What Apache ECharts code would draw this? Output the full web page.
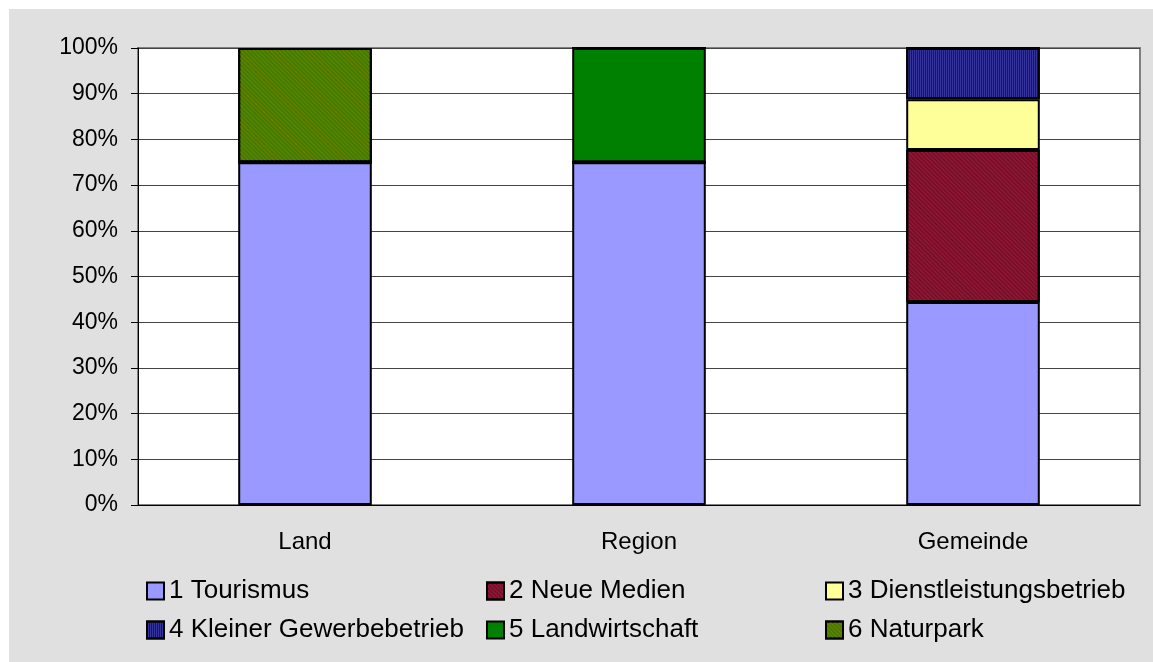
<!DOCTYPE html>
<html>
<head>
<meta charset="utf-8">
<script src="https://cdn.jsdelivr.net/npm/echarts@6/dist/echarts.min.js"></script>
<style>
  html, body { margin: 0; padding: 0; background: #fff; }
  #chart { position: absolute; left: 9px; top: 9px; width: 1144px; height: 653px; background: #e0e0e0; }
</style>
</head>
<body>
<div id="chart"></div>
<script>
var categories = ['Land', 'Region', 'Gemeinde'];
var tourismus = [75, 75, 44.4];
var neueMedien = [0, 0, 33.3];
var dienstleistung = [0, 0, 11.1];
var kleinerGewerbe = [0, 0, 11.2];
var landwirtschaft = [0, 25, 0];
var naturpark = [25, 0, 0];
var yTicks = { min: 0, max: 100, interval: 10 };

var chart = echarts.init(document.getElementById('chart'));
var font = 'Liberation Sans, Arial, sans-serif';

function bar(name, data, color, decal) {
    var s = {
        name: name,
        type: 'bar',
        stack: 'total',
        barWidth: '40%',
        data: data,
        itemStyle: { color: color, borderColor: '#000', borderWidth: 2 }
    };
    if (decal) s.itemStyle.decal = decal;
    return s;
}

function legendCol(left, names) {
    return {
        orient: 'vertical',
        left: left,
        top: 569,
        padding: 0,
        itemWidth: 17,
        itemHeight: 17,
        itemGap: 13,
        icon: 'rect',
        data: names,
        textStyle: { fontFamily: font, fontSize: 26, color: '#000' },
        selectedMode: false
    };
}

option = {
    animation: false,
    grid: {
        left: 129,
        top: 39,
        right: 13,
        bottom: 157,
        show: true,
        backgroundColor: '#fff',
        borderColor: '#808080',
        borderWidth: 2
    },
    legend: [
        legendCol(137, ['1 Tourismus', '4 Kleiner Gewerbebetrieb']),
        legendCol(477, ['2 Neue Medien', '5 Landwirtschaft']),
        legendCol(816, ['3 Dienstleistungsbetrieb', '6 Naturpark'])
    ],
    xAxis: {
        type: 'category',
        data: categories,
        axisLine: { lineStyle: { color: '#000', width: 1 } },
        axisTick: { length: 7, lineStyle: { color: '#000' } },
        axisLabel: { margin: 25, fontFamily: font, fontSize: 24, color: '#000' }
    },
    yAxis: {
        type: 'value',
        min: yTicks.min,
        max: yTicks.max,
        interval: yTicks.interval,
        axisLine: { show: true, lineStyle: { color: '#000', width: 1 } },
        axisTick: { show: true, length: 7, lineStyle: { color: '#000' } },
        axisLabel: { margin: 20, formatter: '{value}%', fontFamily: font, fontSize: 23, color: '#000' },
        splitLine: { lineStyle: { color: '#444', width: 1 } }
    },
    series: [
        bar('1 Tourismus', tourismus, '#9999ff'),
        bar('2 Neue Medien', neueMedien, '#8e1632', {
            symbol: 'rect', symbolSize: 1, dashArrayX: [1, 0], dashArrayY: [1, 2],
            rotation: Math.PI / 4, color: 'rgba(60,0,20,0.45)'
        }),
        bar('3 Dienstleistungsbetrieb', dienstleistung, '#ffff99'),
        bar('4 Kleiner Gewerbebetrieb', kleinerGewerbe, '#34349a', {
            symbol: 'rect', symbolSize: 1, dashArrayX: [1, 1], dashArrayY: [1, 0],
            color: '#15156a'
        }),
        bar('5 Landwirtschaft', landwirtschaft, '#008000'),
        bar('6 Naturpark', naturpark, '#3d7d00', {
            symbol: 'rect', symbolSize: 1, dashArrayX: [1, 0], dashArrayY: [1, 2],
            rotation: Math.PI / 4, color: 'rgba(128,128,0,0.8)'
        })
    ]
};
chart.setOption(option);
</script>
</body>
</html>
